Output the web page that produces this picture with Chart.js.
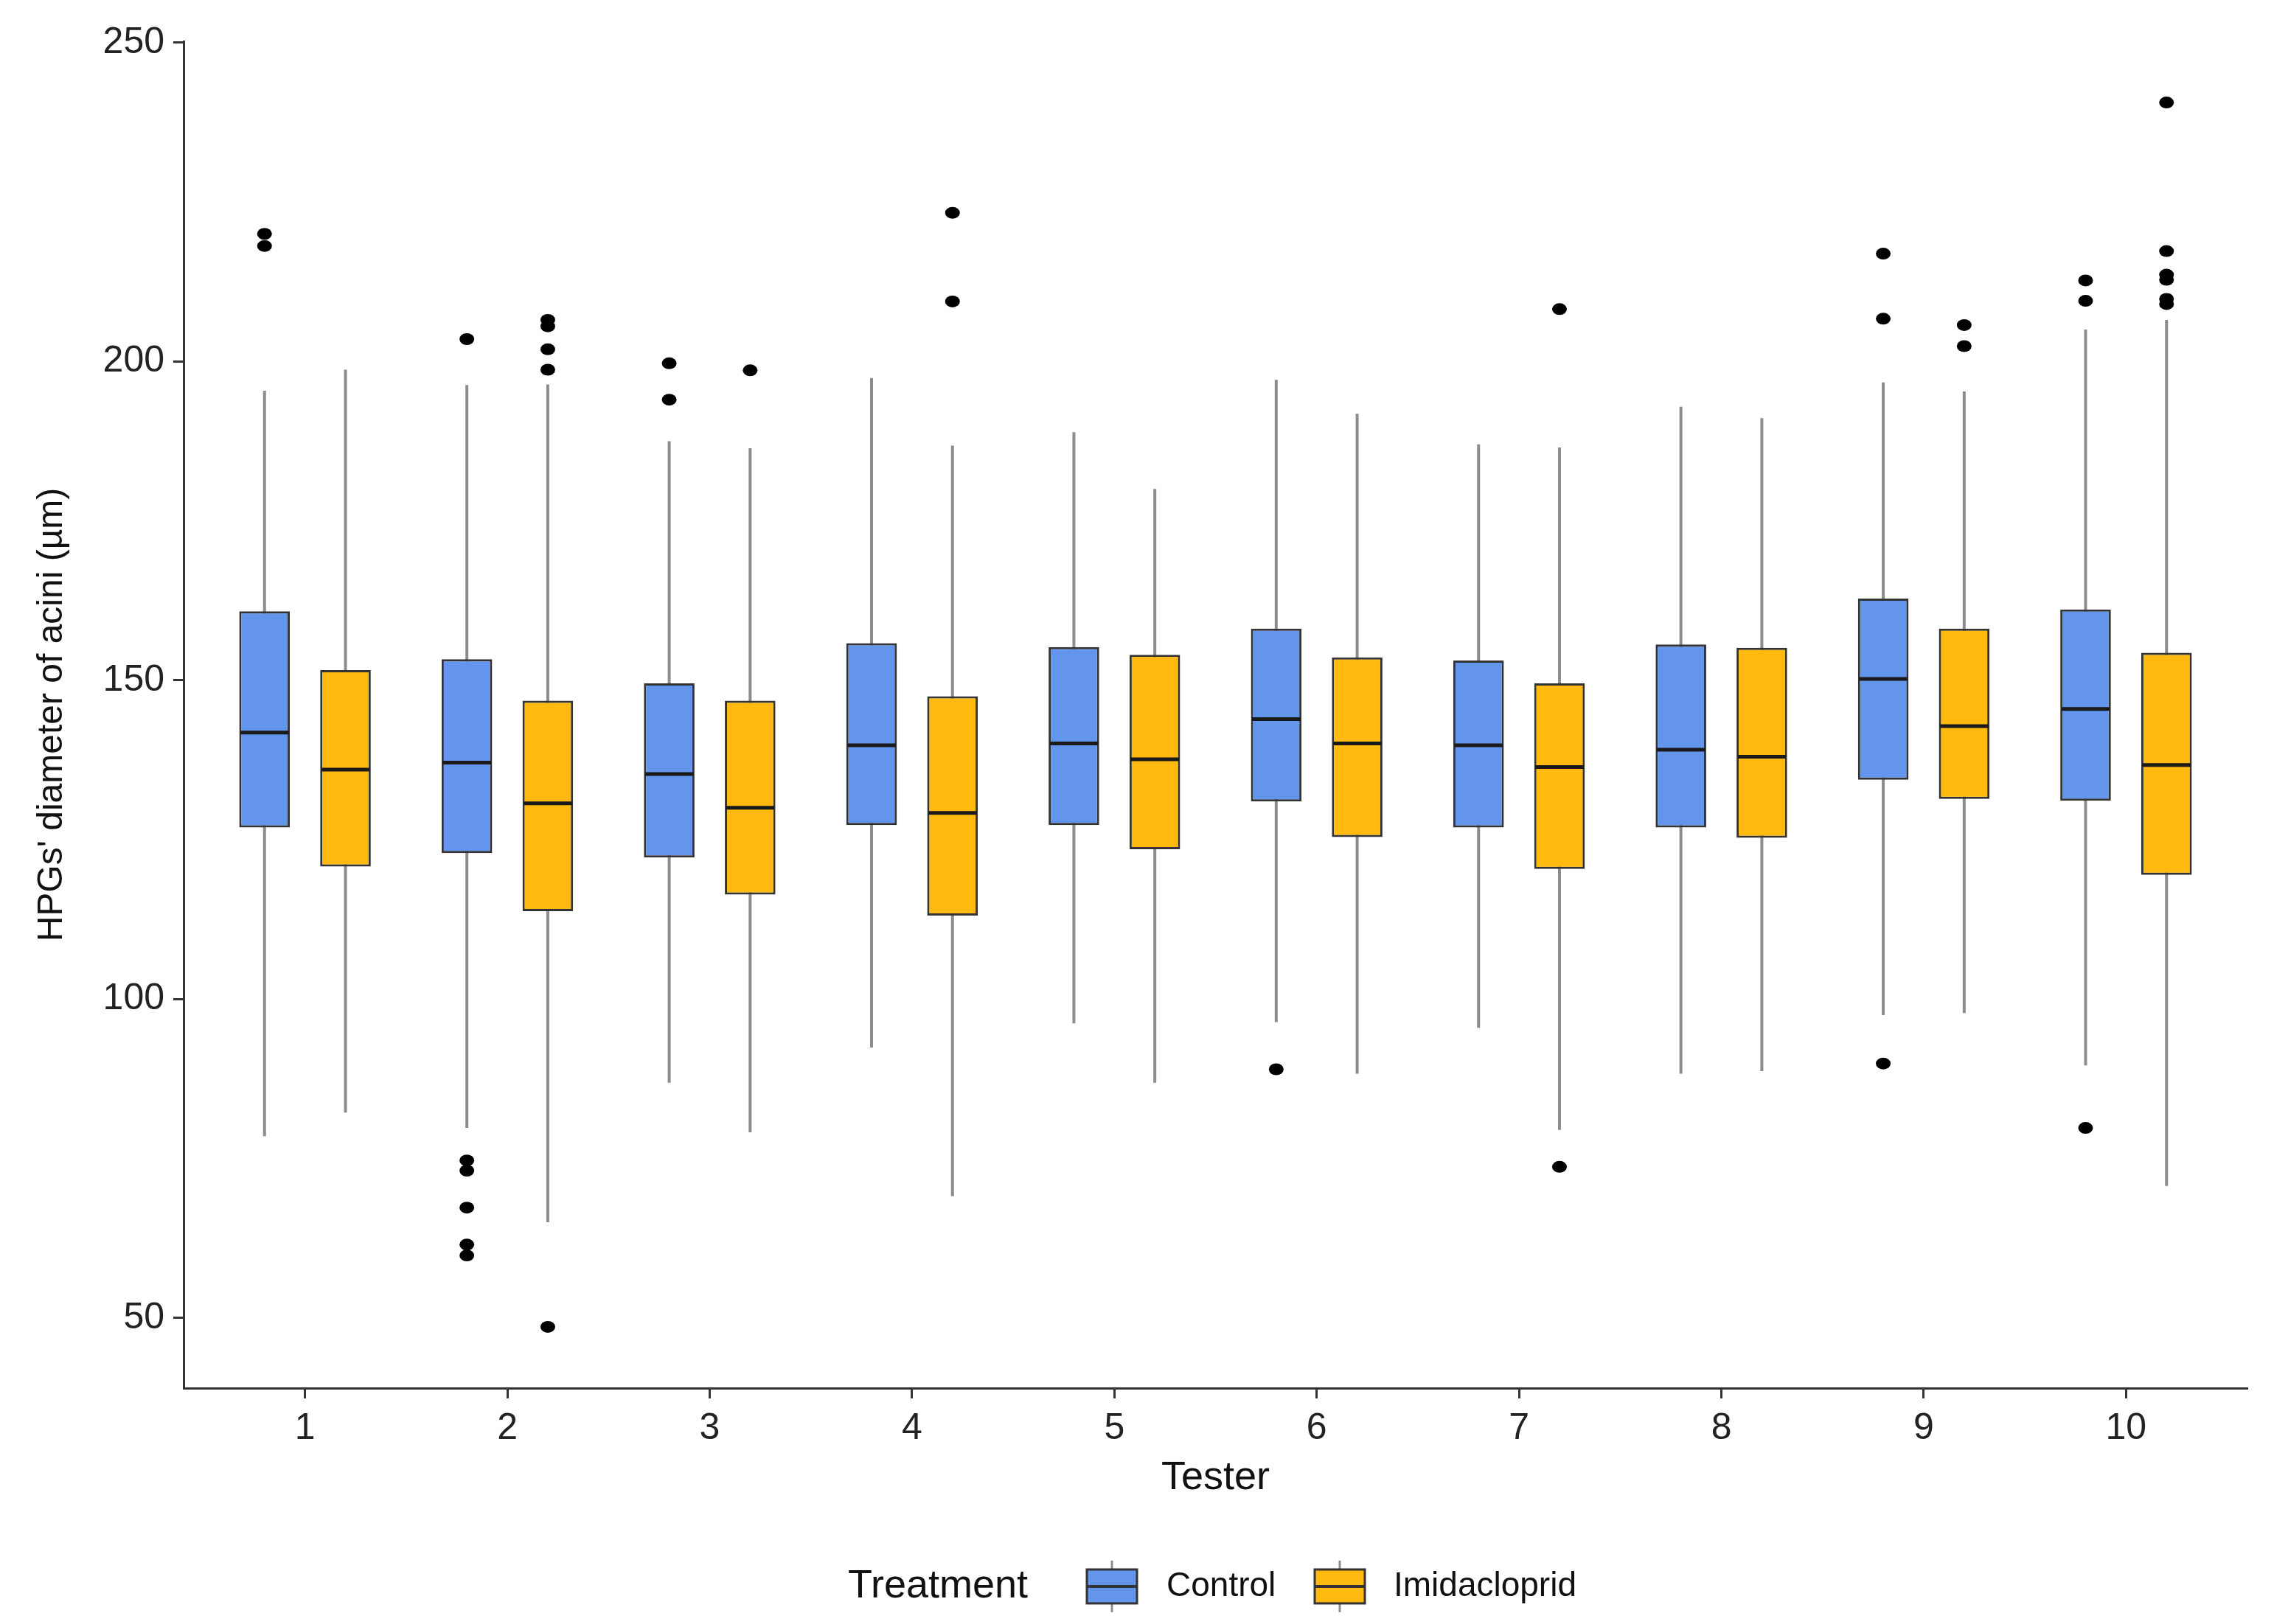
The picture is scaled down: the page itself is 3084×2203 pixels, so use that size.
<!DOCTYPE html>
<html>
<head>
<meta charset="utf-8">
<script src="https://cdn.jsdelivr.net/npm/chart.js@4.4.1/dist/chart.umd.min.js"></script>
<style>
  html, body { margin: 0; padding: 0; background: #fff; }
  canvas { display: block; }
</style>
</head>
<body>
<canvas id="hpg" width="3084" height="2203"></canvas>
<script>
const testers = ['1', '2', '3', '4', '5', '6', '7', '8', '9', '10'];
const yTicks = [50, 100, 150, 200, 250];

// Control
const controlLow    = [78.5, 79.8, 86.9, 92.4, 96.2, 96.4, 95.5, 88.3, 97.5, 89.6];
const controlQ1     = [126.9, 122.9, 122.2, 127.3, 127.3, 131.0, 126.9, 126.9, 134.4, 131.1];
const controlMedian = [141.8, 137.1, 135.3, 139.8, 140.1, 143.9, 139.8, 139.1, 150.2, 145.5];
const controlQ3     = [160.8, 153.3, 149.5, 155.8, 155.2, 158.1, 153.1, 155.6, 162.8, 161.1];
const controlHigh   = [195.4, 196.3, 187.5, 197.4, 188.9, 197.1, 187.0, 192.9, 196.7, 205.0];
const controlOutliers = [
  [220.0, 218.1],
  [203.5, 74.7, 73.1, 67.3, 61.5, 59.8],
  [199.7, 194.0],
  [],
  [],
  [89.0],
  [],
  [],
  [216.9, 206.7, 89.9],
  [212.7, 209.5, 79.8]
];

// Imidacloprid
const imidLow    = [82.2, 65.0, 79.1, 69.1, 86.9, 88.3, 79.5, 88.7, 97.8, 70.7];
const imidQ1     = [120.8, 113.8, 116.4, 113.1, 123.5, 125.4, 120.4, 125.3, 131.4, 119.5];
const imidMedian = [136.0, 130.7, 130.0, 129.2, 137.6, 140.1, 136.4, 138.0, 142.8, 136.7];
const imidQ3     = [151.6, 146.8, 146.8, 147.5, 154.0, 153.6, 149.5, 155.1, 158.1, 154.3];
const imidHigh   = [198.7, 196.4, 186.4, 186.8, 180.0, 191.8, 186.5, 191.1, 195.3, 206.5];
const imidOutliers = [
  [],
  [206.5, 205.5, 201.9, 198.7, 48.6],
  [198.6],
  [223.3, 209.4],
  [],
  [],
  [208.2, 73.7],
  [],
  [205.7, 202.4],
  [240.6, 217.3, 213.6, 212.8, 209.8, 209.0]
];

const FONT = '"Liberation Sans", Arial, sans-serif';
const BLUE = '#6495ED';
const GOLD = '#FFB90F';
const EDGE = '#333333';
const WHISKER = '#8c8c8c';

function boxSet(label, colour, q1, q3, med, low, high, outliers) {
  return {
    label: label,
    data: testers.map((t, i) => ({ x: i + 1, y: [q1[i], q3[i]] })),
    backgroundColor: colour,
    borderColor: EDGE,
    borderWidth: 3,
    borderSkipped: false,
    categoryPercentage: 0.8,
    barPercentage: 0.625,
    median: med,
    low: low,
    high: high,
    outliers: outliers
  };
}

function drawKey(ctx, left, cy, fill) {
  const w = 68, h = 46;
  ctx.save();
  ctx.strokeStyle = WHISKER;
  ctx.lineWidth = 3;
  ctx.beginPath();
  ctx.moveTo(left + w / 2, cy - h / 2 - 12);
  ctx.lineTo(left + w / 2, cy + h / 2 + 12);
  ctx.stroke();
  ctx.fillStyle = fill;
  ctx.fillRect(left, cy - h / 2, w, h);
  ctx.strokeStyle = EDGE;
  ctx.lineWidth = 3;
  ctx.strokeRect(left, cy - h / 2, w, h);
  ctx.lineWidth = 4;
  ctx.beginPath();
  ctx.moveTo(left, cy);
  ctx.lineTo(left + w, cy);
  ctx.stroke();
  ctx.restore();
}

const boxExtras = {
  id: 'boxExtras',
  beforeDatasetsDraw(chart) {
    const ctx = chart.ctx, y = chart.scales.y;
    chart.data.datasets.forEach((ds, d) => {
      chart.getDatasetMeta(d).data.forEach((bar, i) => {
        ctx.save();
        ctx.strokeStyle = WHISKER;
        ctx.lineWidth = 4;
        ctx.beginPath();
        ctx.moveTo(bar.x, y.getPixelForValue(ds.low[i]));
        ctx.lineTo(bar.x, y.getPixelForValue(ds.high[i]));
        ctx.stroke();
        ctx.restore();
      });
    });
  },
  afterDatasetsDraw(chart) {
    const ctx = chart.ctx, y = chart.scales.y;
    chart.data.datasets.forEach((ds, d) => {
      chart.getDatasetMeta(d).data.forEach((bar, i) => {
        const half = bar.width / 2 - 1.5;
        ctx.save();
        ctx.strokeStyle = '#1a1a1a';
        ctx.lineWidth = 5;
        ctx.beginPath();
        const my = y.getPixelForValue(ds.median[i]);
        ctx.moveTo(bar.x - half, my);
        ctx.lineTo(bar.x + half, my);
        ctx.stroke();
        ctx.fillStyle = '#000';
        ds.outliers[i].forEach(v => {
          ctx.beginPath();
          ctx.ellipse(bar.x, y.getPixelForValue(v), 10, 8, 0, 0, Math.PI * 2);
          ctx.fill();
        });
        ctx.restore();
      });
    });
  },
  afterDraw(chart) {
    const ctx = chart.ctx;
    const cy = 2152;
    const sets = chart.data.datasets;
    ctx.save();
    ctx.textBaseline = 'middle';
    ctx.textAlign = 'left';
    ctx.fillStyle = '#111';
    ctx.font = '54px ' + FONT;
    ctx.fillText('Treatment', 1150, cy);
    drawKey(ctx, 1474, cy, sets[0].backgroundColor);
    ctx.font = '46px ' + FONT;
    ctx.fillStyle = '#111';
    ctx.fillText(sets[0].label, 1582, cy);
    drawKey(ctx, 1783, cy, sets[1].backgroundColor);
    ctx.fillStyle = '#111';
    ctx.fillText(sets[1].label, 1890, cy);
    ctx.restore();
  }
};

new Chart(document.getElementById('hpg'), {
  type: 'bar',
  data: {
    datasets: [
      boxSet('Control', BLUE, controlQ1, controlQ3, controlMedian, controlLow, controlHigh, controlOutliers),
      boxSet('Imidacloprid', GOLD, imidQ1, imidQ3, imidMedian, imidLow, imidHigh, imidOutliers)
    ]
  },
  options: {
    responsive: false,
    animation: false,
    devicePixelRatio: 1,
    layout: { padding: { top: 56, right: 36, left: 0, bottom: 0 } },
    plugins: {
      legend: { display: false },
      tooltip: { enabled: false }
    },
    scales: {
      x: {
        type: 'linear',
        min: 0.4,
        max: 10.6,
        offset: false,
        grid: { offset: false, drawOnChartArea: false, drawTicks: true, tickLength: 14, tickWidth: 3, tickColor: EDGE },
        border: { display: true, color: EDGE, width: 3 },
        afterBuildTicks: s => { s.ticks = testers.map((t, i) => ({ value: i + 1 })); },
        afterFit: s => { s.height = 320; },
        ticks: {
          callback: (v, i) => testers[i],
          font: { family: FONT, size: 50 },
          color: '#222',
          padding: 11,
          maxRotation: 0,
          autoSkip: false
        },
        title: {
          display: true,
          text: 'Tester',
          font: { family: FONT, size: 54 },
          color: '#111',
          padding: { top: 0, bottom: 165 }
        }
      },
      y: {
        min: 39,
        max: 250.2,
        grid: { drawOnChartArea: false, drawTicks: true, tickLength: 14, tickWidth: 3, tickColor: EDGE },
        border: { display: true, color: EDGE, width: 3 },
        afterBuildTicks: s => { s.ticks = yTicks.map(v => ({ value: v })); },
        afterFit: s => { s.width = 249; },
        ticks: {
          font: { family: FONT, size: 50 },
          color: '#222',
          padding: 12
        },
        title: {
          display: true,
          text: "HPGs' diameter of acini (\u00b5m)",
          font: { family: FONT, size: 48 },
          color: '#111',
          padding: { top: 42, bottom: 0 }
        }
      }
    }
  },
  plugins: [boxExtras]
});
</script>
</body>
</html>
